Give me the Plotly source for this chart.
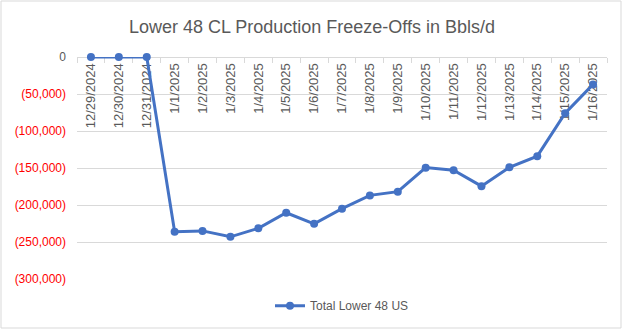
import plotly.graph_objects as go

# Daily freeze-off estimates, Lower 48 crude (bbl/d)
dates = ["12/29/2024", "12/30/2024", "12/31/2024", "1/1/2025", "1/2/2025", "1/3/2025",
         "1/4/2025", "1/5/2025", "1/6/2025", "1/7/2025", "1/8/2025", "1/9/2025",
         "1/10/2025", "1/11/2025", "1/12/2025", "1/13/2025", "1/14/2025", "1/15/2025",
         "1/16/2025"]
total_lower48 = [0, 0, 0, -236000, -235000, -243000, -231500, -210500, -225500, -205000,
                 -187000, -182000, -149500, -153000, -174500, -149000, -134000, -76000,
                 -37000]

y_tick_vals = [0, -50000, -100000, -150000, -200000, -250000, -300000]
y_tick_text = ['<span style="color:#595959">0</span>', "(50,000)", "(100,000)", "(150,000)",
               "(200,000)", "(250,000)", "(300,000)"]

FONT = "Liberation Sans"
GRAY = "#595959"
BLUE = "#4472C4"

fig = go.Figure()
fig.add_trace(go.Scatter(
    x=dates, y=total_lower48, mode="lines+markers",
    name="Total Lower 48 US",
    line=dict(color=BLUE, width=3),
    marker=dict(color=BLUE, size=8),
    cliponaxis=False,
))

fig.update_layout(
    width=624, height=331,
    margin=dict(l=77, r=17, t=57, b=52, autoexpand=False),
    paper_bgcolor="white", plot_bgcolor="white",
    font=dict(family=FONT, color=GRAY, size=12),
    title=dict(text="Lower 48 CL Production Freeze-Offs in Bbls/d",
               x=0.5, xanchor="center", y=0.918, yanchor="middle",
               font=dict(family=FONT, size=18, color=GRAY)),
    showlegend=True,
    legend=dict(orientation="h", x=0.5, xanchor="center", y=-0.055, yanchor="top",
                font=dict(family=FONT, size=12, color=GRAY), bgcolor="rgba(0,0,0,0)"),
    # category axis crosses at the zero line (top of the plot), labels hang below it
    xaxis=dict(
        type="category", side="bottom", anchor="free", position=1, automargin=False,
        tickangle=-90, tickson="boundaries", ticks="outside", ticklen=5,
        tickcolor="#D9D9D9", showgrid=False, showline=True, linecolor="#D9D9D9",
        linewidth=1, tickfont=dict(family=FONT, size=13, color=GRAY),
        range=[-0.5, len(dates) - 0.5], zeroline=False, layer="below traces",
    ),
    yaxis=dict(
        range=[-300000, 0], tickvals=y_tick_vals, ticktext=y_tick_text,
        tickfont=dict(family=FONT, size=12, color="#FF0000"), automargin=False,
        showgrid=True, gridcolor="#D9D9D9", gridwidth=1, zeroline=False,
        showline=False, ticks="", ticklabelstandoff=10, layer="below traces",
    ),
    shapes=[dict(type="rect", xref="paper", yref="paper",
                 x0=-76 / 530, x1=1 + 14 / 530, y0=-49 / 222, y1=1 + 56 / 222,
                 line=dict(color="#D9D9D9", width=1), layer="below")],
)

fig.write_html("out.html")
